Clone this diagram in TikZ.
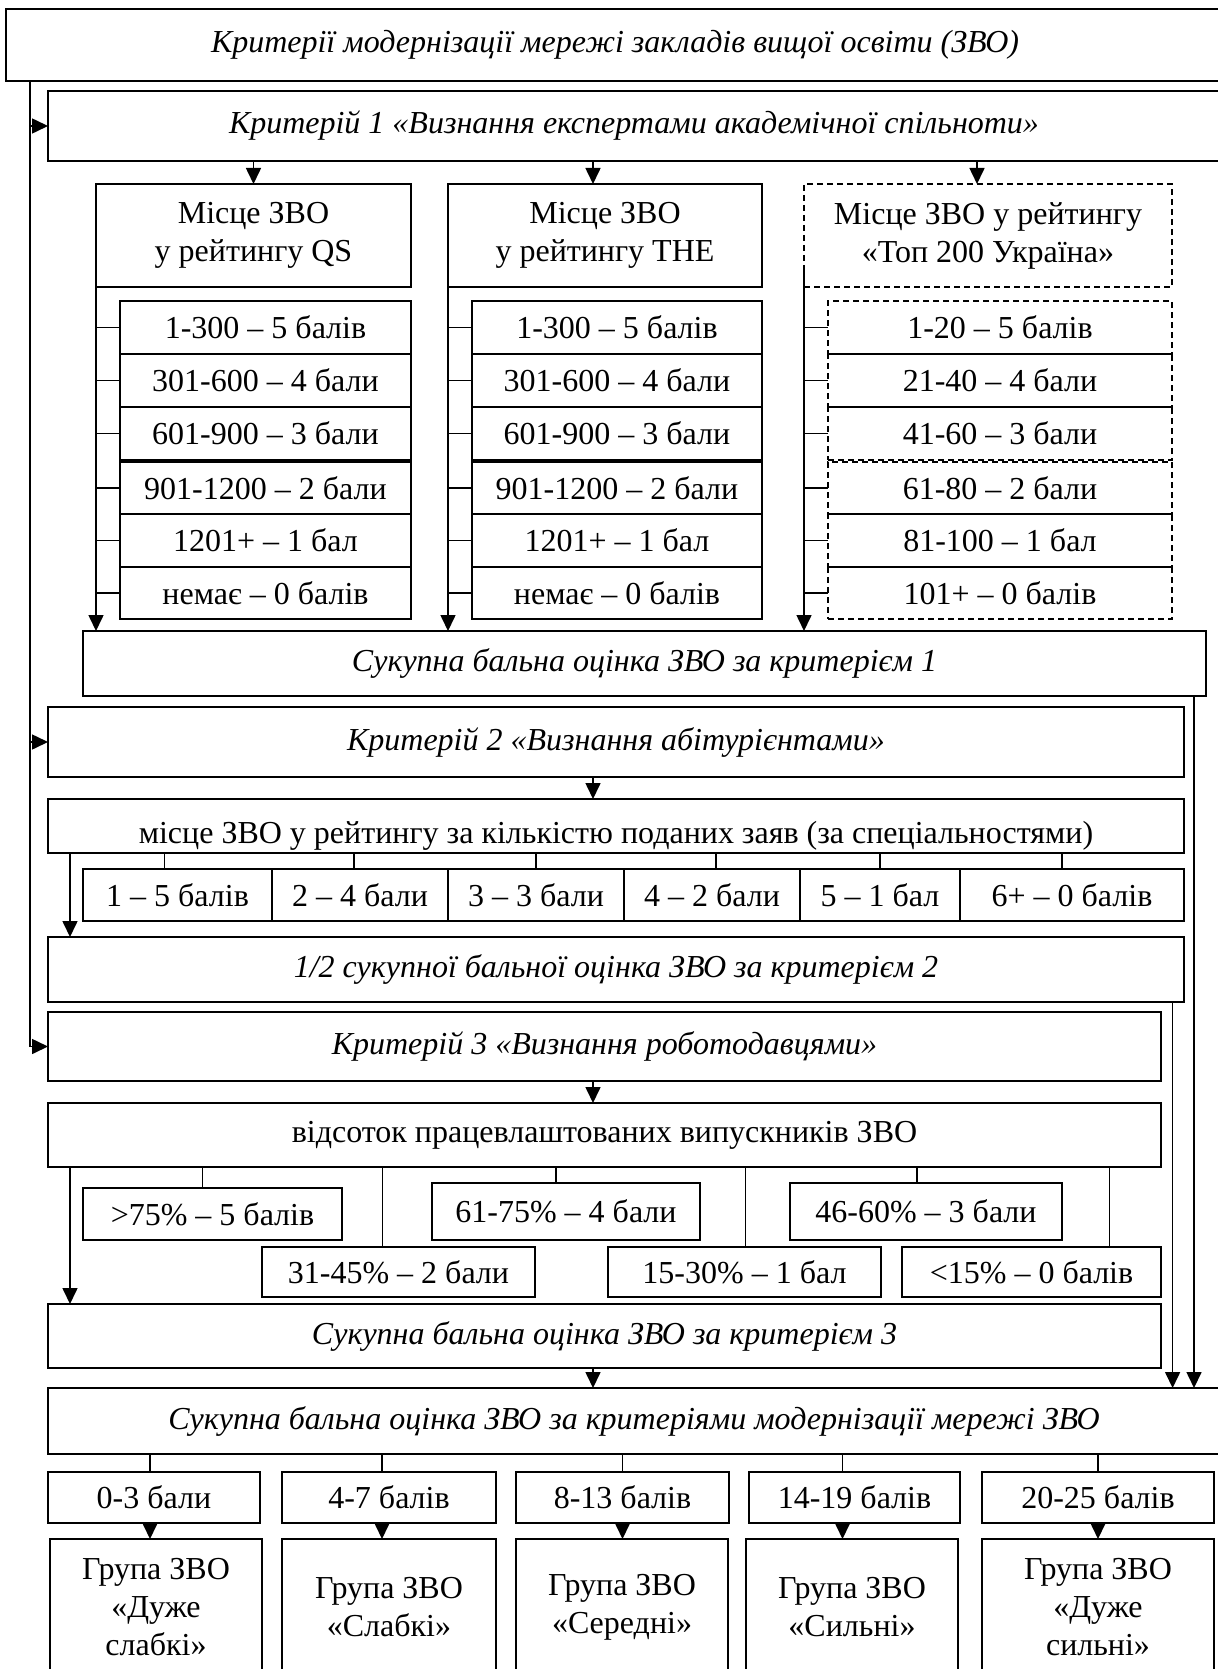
\documentclass[tikz,border=0pt]{standalone}
\usepackage{fontspec}
\setmainfont{Liberation Serif}
\usetikzlibrary{arrows.meta,positioning}
\tikzset{
    box/.style={
    rectangle,draw=black,line width=0.8pt,inner sep=0pt,outer sep=0pt,align=center,font=\fontsize{16}{19}\selectfont
    },
    dbox/.style={
    box,dash pattern=on 3pt off 2pt
    },
    crit/.style={
    box,font=\fontsize{16}{19}\selectfont\itshape
    },
    wh/.style 2 args={
    minimum width=#1*0.5pt,minimum height=#2*0.5pt
    },
    arr/.style={
    -{Triangle[length=8pt,width=7.5pt]},line width=0.8pt
    },
    tick/.style={
    line width=0.8pt
    },
}
\begin{document}
\begin{tikzpicture}[x=0.5pt,y=-0.5pt]
   \useasboundingbox (0,0) rectangle (1217,1669);
   \coordinate (rail) at (30,0);
   \coordinate (lrail) at (70,0);
   \coordinate (mid) at (593,0);
   \coordinate (rr1) at (1194,0);
   \coordinate (rr2) at (1172.6,0);

   \node[crit,wh={1218}{72}] (ttl) at (615,45) {Критерії модернізації мережі закладів вищої освіти (ЗВО)};

   %criterion 1
   \node[crit,wh={1172}{70}] (k1) at (634,126) {Критерій 1 «Визнання експертами академічної спільноти»};
   \node[box,wh={315}{103}] (qs) at (253.5,235.5) {Місце ЗВО\\у рейтингу QS};
   \node[box,wh={314}{103}] (the) at (605,235.5) {Місце ЗВО\\у рейтингу THE};
   \node[dbox,wh={368}{103}] (top) at (988,235.5) {Місце ЗВО у рейтингу\\«Топ 200 Україна»};

   \node[box,wh={291}{53}] (qs1) at (265.5,327.5) {1-300 – 5 балів};
   \node[box,wh={291}{53}] (qs2) at (265.5,380.5) {301-600 – 4 бали};
   \node[box,wh={291}{53}] (qs3) at (265.5,433.5) {601-900 – 3 бали};
   \node[box,wh={291}{52}] (qs4) at (265.5,488) {901-1200 – 2 бали};
   \node[box,wh={291}{53}] (qs5) at (265.5,540.5) {1201+ – 1 бал};
   \node[box,wh={291}{52}] (qs6) at (265.5,593) {немає – 0 балів};

   \node[box,wh={290}{53}] (th1) at (617,327.5) {1-300 – 5 балів};
   \node[box,wh={290}{53}] (th2) at (617,380.5) {301-600 – 4 бали};
   \node[box,wh={290}{53}] (th3) at (617,433.5) {601-900 – 3 бали};
   \node[box,wh={290}{52}] (th4) at (617,488) {901-1200 – 2 бали};
   \node[box,wh={290}{53}] (th5) at (617,540.5) {1201+ – 1 бал};
   \node[box,wh={290}{52}] (th6) at (617,593) {немає – 0 балів};

   \node[dbox,wh={344}{53}] (tp1) at (1000,327.5) {1-20 – 5 балів};
   \node[dbox,wh={344}{53}] (tp2) at (1000,380.5) {21-40 – 4 бали};
   \node[dbox,wh={344}{53}] (tp3) at (1000,433.5) {41-60 – 3 бали};
   \node[dbox,wh={344}{52}] (tp4) at (1000,488) {61-80 – 2 бали};
   \node[dbox,wh={344}{53}] (tp5) at (1000,540.5) {81-100 – 1 бал};
   \node[dbox,wh={344}{52}] (tp6) at (1000,593) {101+ – 0 балів};

   \node[crit,wh={1123}{65}] (s1) at (644.5,663.5) {Сукупна бальна оцінка ЗВО за критерієм 1};

   %criterion 2
   \node[crit,wh={1136}{70}] (k2) at (616,742) {Критерій 2 «Визнання абітурієнтами»};
   \node[box,wh={1136}{54},text height=17pt,text depth=0pt] (m2) at (616,826) {місце ЗВО у рейтингу за кількістю поданих заяв (за спеціальностями)};
   \node[box,wh={189}{52}] (a1) at (177.5,895) {1 – 5 балів};
   \node[box,wh={176}{52}] (a2) at (360,895) {2 – 4 бали};
   \node[box,wh={176}{52}] (a3) at (536,895) {3 – 3 бали};
   \node[box,wh={176}{52}] (a4) at (712,895) {4 – 2 бали};
   \node[box,wh={160}{52}] (a5) at (880,895) {5 – 1 бал};
   \node[box,wh={224}{52}] (a6) at (1072,895) {6+ – 0 балів};
   \node[crit,wh={1136}{65}] (h2) at (616,969.5) {1/2 сукупної бальної оцінка ЗВО за критерієм 2};

   %criterion 3
   \node[crit,wh={1113}{69}] (k3) at (604.5,1046.5) {Критерій 3 «Визнання роботодавцями»};
   \node[box,wh={1113}{64}] (v3) at (604.5,1135) {відсоток працевлаштованих випускників ЗВО};
   \node[box,wh={259}{52}] (e1) at (212.5,1214) {>75\% – 5 балів};
   \node[box,wh={268}{57}] (e2) at (566,1211.5) {61-75\% – 4 бали};
   \node[box,wh={272}{57}] (e3) at (926,1211.5) {46-60\% – 3 бали};
   \node[box,wh={273}{50}] (e4) at (398.5,1272) {31-45\% – 2 бали};
   \node[box,wh={273}{50}] (e5) at (744.5,1272) {15-30\% – 1 бал};
   \node[box,wh={259}{50}] (e6) at (1031.5,1272) {<15\% – 0 балів};
   \node[crit,wh={1113}{64}] (s3) at (604.5,1336) {Сукупна бальна оцінка ЗВО за критерієм 3};

   %total and groups
   \node[crit,wh={1172}{66}] (fin) at (634,1421) {Сукупна бальна оцінка ЗВО за критеріями модернізації мережі ЗВО};
   \node[box,wh={212}{51}] (r1) at (154,1497.5) {0-3 бали};
   \node[box,wh={214}{51}] (r2) at (389,1497.5) {4-7 балів};
   \node[box,wh={213}{51}] (r3) at (622.5,1497.5) {8-13 балів};
   \node[box,wh={211}{51}] (r4) at (854.5,1497.5) {14-19 балів};
   \node[box,wh={232}{51}] (r5) at (1098,1497.5) {20-25 балів};
   \node[box,wh={212}{136}] (g1) at (156,1607) {Група ЗВО\\«Дуже\\слабкі»};
   \node[box,wh={214}{136}] (g2) at (389,1607) {Група ЗВО\\«Слабкі»};
   \node[box,wh={212}{136}] (g3) at (622,1607) {Група ЗВО\\«Середні»};
   \node[box,wh={212}{136}] (g4) at (852,1607) {Група ЗВО\\«Сильні»};
   \node[box,wh={232}{136}] (g5) at (1098,1607) {Група ЗВО\\«Дуже\\сильні»};

  %left rail
  \draw[arr] (ttl.south -| rail) |- (k3.west);
  \path[arr]
    (k1.west -| rail) edge (k1.west)
    (k2.west -| rail) edge (k2.west);

  %criterion 1
  \path[arr]
    (k1.south -| qs.north) edge (qs.north)
    (k1.south -| mid) edge (the.north -| mid)
    ([xshift=-5.5pt]top.north |- k1.south) edge ([xshift=-5.5pt]top.north)
    ([yshift=8pt]qs.south west) edge (qs.south west |- s1.north)
    ([yshift=8pt]the.south west) edge (the.south west |- s1.north)
    ([yshift=8pt]top.south west) edge (top.south west |- s1.north);
  \path[tick]
    (qs1.west -| qs.west) edge (qs1.west)
    (qs2.west -| qs.west) edge (qs2.west)
    (qs3.west -| qs.west) edge (qs3.west)
    (qs4.west -| qs.west) edge (qs4.west)
    (qs5.west -| qs.west) edge (qs5.west)
    (qs6.west -| qs.west) edge (qs6.west)
    (th1.west -| the.west) edge (th1.west)
    (th2.west -| the.west) edge (th2.west)
    (th3.west -| the.west) edge (th3.west)
    (th4.west -| the.west) edge (th4.west)
    (th5.west -| the.west) edge (th5.west)
    (th6.west -| the.west) edge (th6.west)
    (tp1.west -| top.west) edge (tp1.west)
    (tp2.west -| top.west) edge (tp2.west)
    (tp3.west -| top.west) edge (tp3.west)
    (tp4.west -| top.west) edge (tp4.west)
    (tp5.west -| top.west) edge (tp5.west)
    (tp6.west -| top.west) edge (tp6.west);

  %criterion 2
  \path[arr]
    (k2.south -| mid) edge (m2.north -| mid)
    (m2.south -| lrail) edge (h2.north -| lrail);
  \path[tick]
    ([xshift=-6.5pt]a1.north |- m2.south) edge ([xshift=-6.5pt]a1.north)
    ([xshift=-3pt]a2.north |- m2.south) edge ([xshift=-3pt]a2.north)
    (a3.north |- m2.south) edge (a3.north)
    ([xshift=2pt]a4.north |- m2.south) edge ([xshift=2pt]a4.north)
    (a5.north |- m2.south) edge (a5.north)
    ([xshift=-5pt]a6.north |- m2.south) edge ([xshift=-5pt]a6.north);

  %criterion 3
  \path[arr]
    (k3.south -| mid) edge (v3.north -| mid)
    (v3.south -| lrail) edge (s3.north -| lrail);
  \path[tick]
    ([xshift=-5pt]e1.north |- v3.south) edge ([xshift=-5pt]e1.north)
    ([xshift=-5pt]e2.north |- v3.south) edge ([xshift=-5pt]e2.north)
    ([xshift=-4.5pt]e3.north |- v3.south) edge ([xshift=-4.5pt]e3.north)
    ([xshift=-8pt]e4.north |- v3.south) edge ([xshift=-8pt]e4.north)
    ([xshift=0.5pt]e5.north |- v3.south) edge ([xshift=0.5pt]e5.north)
    ([xshift=39pt]e6.north |- v3.south) edge ([xshift=39pt]e6.north);

  %total
  \path[arr]
    (s3.south -| mid) edge (fin.north -| mid)
    (s1.south -| rr1) edge (fin.north -| rr1)
    (h2.south -| rr2) edge (fin.north -| rr2);
  \path[tick]
    ([xshift=-2pt]r1.north |- fin.south) edge ([xshift=-2pt]r1.north)
    ([xshift=-3.5pt]r2.north |- fin.south) edge ([xshift=-3.5pt]r2.north)
    (r3.north |- fin.south) edge (r3.north)
    ([xshift=-6pt]r4.north |- fin.south) edge ([xshift=-6pt]r4.north)
    (r5.north |- fin.south) edge (r5.north);
  \path[arr]
    ([xshift=-2pt]r1.south) edge ([xshift=-2pt]r1.south |- g1.north)
    ([xshift=-3.5pt]r2.south) edge ([xshift=-3.5pt]r2.south |- g2.north)
    (r3.south) edge (r3.south |- g3.north)
    ([xshift=-6pt]r4.south) edge ([xshift=-6pt]r4.south |- g4.north)
    (r5.south) edge (r5.south |- g5.north);
  \end{tikzpicture}
\end{document}
